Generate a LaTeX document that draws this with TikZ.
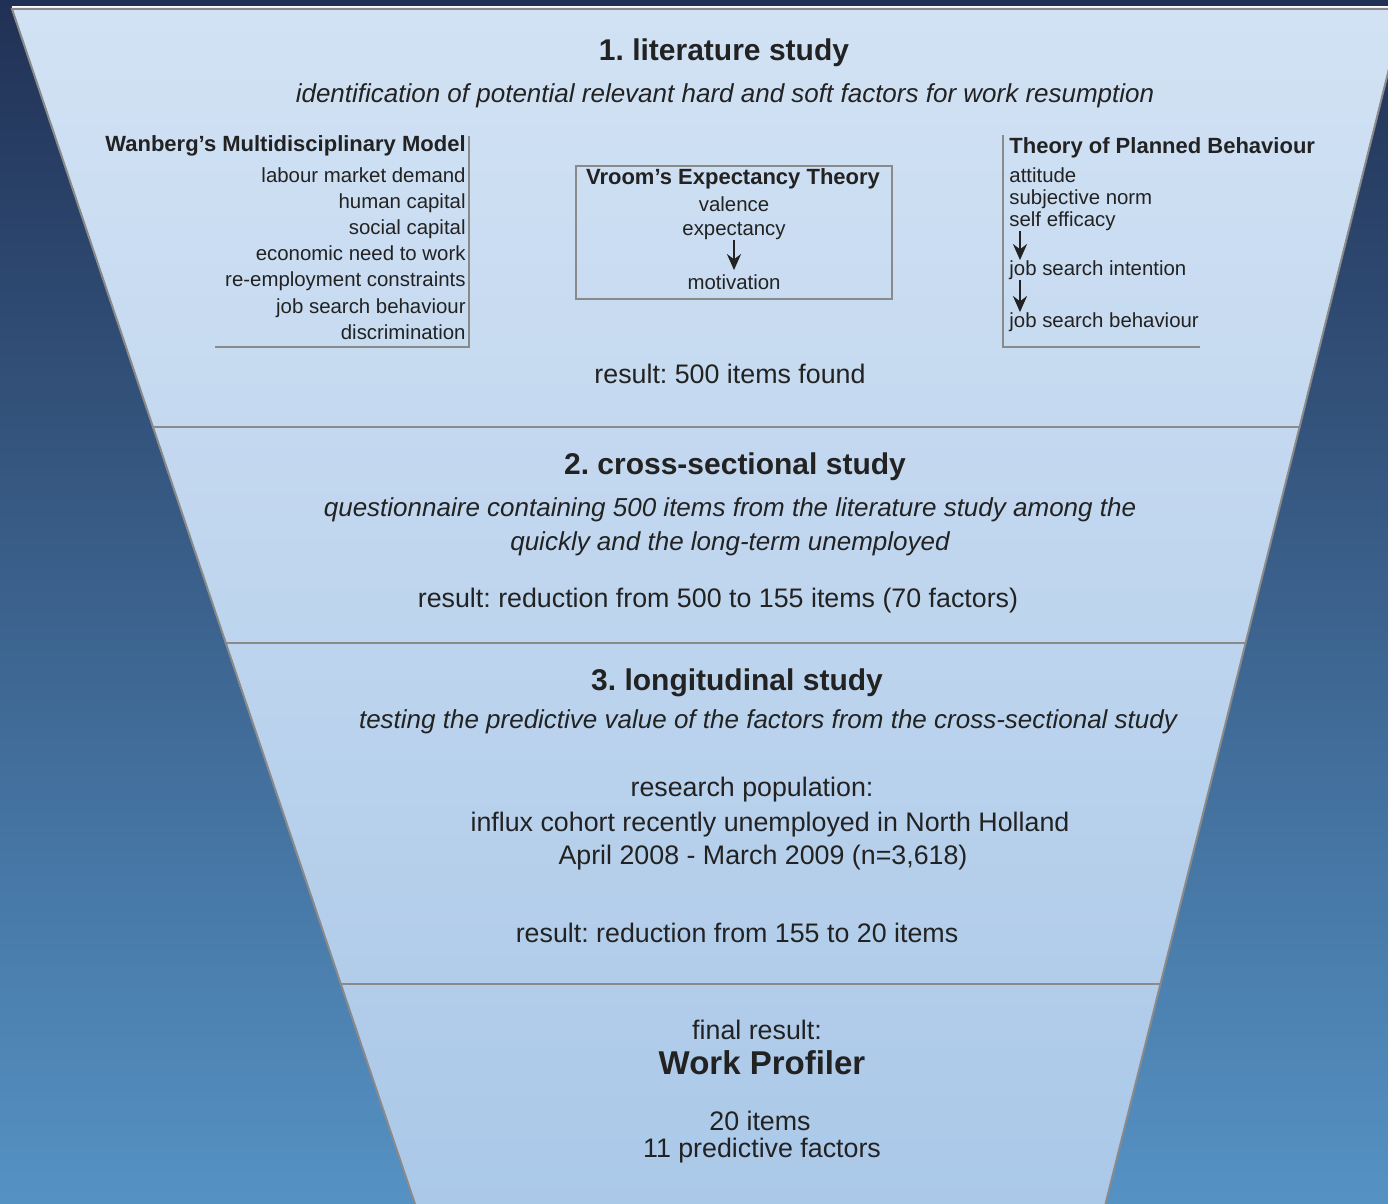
\documentclass[tikz,border=0pt]{standalone}
\usepackage{fontspec}
\setmainfont{Liberation Sans}
\usepackage{xcolor}
\usetikzlibrary{arrows.meta,positioning,calc}
\definecolor{navy}{HTML}{213155}
\definecolor{steel}{HTML}{5592C4}
\definecolor{paletop}{HTML}{D2E2F4}
\definecolor{palebot}{HTML}{AAC8E8}
\definecolor{rule}{HTML}{8A8A8A}
\definecolor{ink}{HTML}{222222}
\frenchspacing

\begin{document}
\begin{tikzpicture}[x=0.5pt,y=-0.5pt,
  head/.style={font=\fontsize{15}{18}\selectfont\bfseries,text=ink,inner sep=0pt},
  desc/.style={font=\fontsize{13}{17}\selectfont\itshape,text=ink,inner sep=0pt,align=center},
  body/.style={font=\fontsize{13.4}{17}\selectfont,text=ink,inner sep=0pt,align=center},
  ttl/.style={font=\fontsize{11}{13}\selectfont\bfseries,text=ink,inner sep=0pt},
  itm/.style={font=\fontsize{10.2}{13.1}\selectfont,text=ink,inner sep=0pt},
  frame/.style={draw=rule,line width=1pt},
  flow/.style={-{Stealth[length=8pt,width=7pt]},line width=1.3pt,draw=ink}
]
\useasboundingbox (0,0) rectangle (1388,1204);
\clip (0,0) rectangle (1388,1204);
\shade[top color=navy,bottom color=steel] (0,0) rectangle (1388,1204);

% funnel
\coordinate (TL) at (12,9);
\coordinate (TR) at (1404,9);
\coordinate (BL) at (417,1210);
\coordinate (BR) at (1104,1210);
\shade[top color=paletop,bottom color=palebot] (TL) -- (TR) -- (BR) -- (BL) -- cycle;
\draw[white,line width=1pt] (12,7) -- (1404,7);
\draw[frame] (BL) -- (TL) -- (TR) -- (BR);

% dividers
\coordinate (d1l) at ($(TL)!0.3480!(BL)$);
\coordinate (d1r) at ($(TR)!0.3480!(BR)$);
\coordinate (d2l) at ($(TL)!0.5279!(BL)$);
\coordinate (d2r) at ($(TR)!0.5279!(BR)$);
\coordinate (d3l) at ($(TL)!0.8118!(BL)$);
\coordinate (d3r) at ($(TR)!0.8118!(BR)$);
\draw[frame] (d1l) -- (d1r);
\draw[frame] (d2l) -- (d2r);
\draw[frame] (d3l) -- (d3r);

% 1. literature study
\node[head] (s1) at (724,53) {1. literature study};
\node[desc] (s1d) at (725,96) {identification of potential relevant hard and soft factors for work resumption};

\node[ttl,anchor=east] (wan) at (466,146) {Wanberg's Multidisciplinary Model};
\node[itm,align=right,anchor=north east] (wanList) at (466,167)
  {labour market demand\\human capital\\social capital\\economic need to work\\re-employment constraints\\job search behaviour\\discrimination};
\coordinate (wanTop) at (469,136);
\coordinate (wanCorner) at (469,347);
\coordinate (wanEnd) at (215,347);
\draw[frame] (wanTop) -- (wanCorner) -- (wanEnd);

\draw[frame] (576,166) rectangle (892,299);
\node[ttl] (vroom) at (733,179) {Vroom's Expectancy Theory};
\node[itm,align=center,anchor=north,font=\fontsize{10.2}{12}\selectfont] (vIn) at (734,196) {valence\\expectancy};
\node[itm] (vOut) at (734,282) {motivation};
\draw[flow,shorten >=2pt] (vIn) -- (vOut);

\node[ttl,anchor=west] (tpb) at (1009,148) {Theory of Planned Behaviour};
\node[itm,align=left,anchor=north west,font=\fontsize{10.2}{11}\selectfont] (tpbIn) at (1009,167) {attitude\\subjective norm\\self efficacy};
\node[itm,anchor=west] (tpbMid) at (1009,270) {job search intention};
\node[itm,anchor=west] (tpbOut) at (1009,322) {job search behaviour};
\draw[flow] ([xshift=5.5pt]tpbIn.south west) -- ([xshift=5.5pt]tpbMid.north west);
\draw[flow] ([xshift=5.5pt]tpbMid.south west) -- ([xshift=5.5pt]tpbOut.north west);
\coordinate (tpbTop) at (1003,135);
\coordinate (tpbCorner) at (1003,347);
\coordinate (tpbEnd) at (1200,347);
\draw[frame] (tpbTop) -- (tpbCorner) -- (tpbEnd);

\node[body] (s1r) at (730,374) {result: 500 items found};

% 2. cross-sectional study
\node[head] (s2) at (735,467) {2. cross-sectional study};
\node[desc] (s2d) at (730,527) {questionnaire containing 500 items from the literature study among the\\quickly and the long-term unemployed};
\node[body] (s2r) at (718,601) {result: reduction from 500 to 155 items (70 factors)};

% 3. longitudinal study
\node[head] (s3) at (737,683) {3. longitudinal study};
\node[desc] (s3d) at (768,722) {testing the predictive value of the factors from the cross-sectional study};
\node[body] (pop) at (752,790) {research population:};
\node[body] (popA) at (770,825) {influx cohort recently unemployed in North Holland};
\node[body] (popB) at (763,858) {April 2008 - March 2009 (n=3,618)};
\node[body] (s3r) at (737,933) {result: reduction from 155 to 20 items};

% final result
\node[body] (fin) at (757,1030) {final result:};
\node[head,font=\fontsize{16.5}{20}\selectfont\bfseries] (wp) at (762,1063) {Work Profiler};
\node[body] (n20) at (760,1121) {20 items};
\node[body] (n11) at (762,1151) {11 predictive factors};
\end{tikzpicture}
\end{document}
